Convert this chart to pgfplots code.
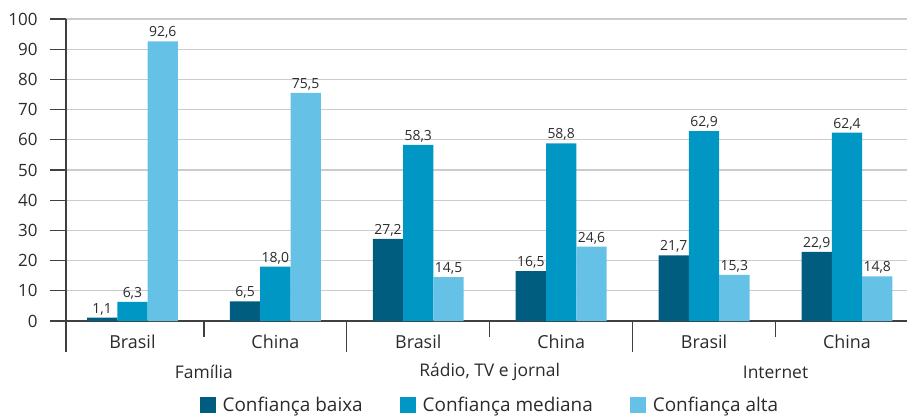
\documentclass[border=0pt]{standalone}
\usepackage{fontspec}
\setmainfont{Open Sans}
\usepackage{pgfplots}
\pgfplotsset{compat=1.18}
\definecolor{cbaixa}{HTML}{005D80}
\definecolor{cmed}{HTML}{0097C4}
\definecolor{calta}{HTML}{65C1E6}
\definecolor{txt}{HTML}{2B2B2B}
\definecolor{axl}{HTML}{404040}
\begin{document}
\begin{tikzpicture}
\useasboundingbox (-66bp,-96bp) rectangle (841bp,321bp);
\begin{axis}[
  at={(0,0)}, anchor=south west,
  scale only axis, width=841bp, height=302bp,
  xmin=-0.465, xmax=5.42, ymin=0, ymax=100,
  ybar=0pt, bar width=0.212,
  clip=false,
  axis x line*=bottom, axis y line*=left,
  axis line style={-, draw=axl, line width=1.3bp},
  /pgf/number format/assume math mode=true,
  ytick={0,10,...,100},
  tick align=outside, major tick length=16bp,
  y tick style={draw=axl, line width=1.3bp},
  x tick style={draw=none},
  ymajorgrids, grid style={draw=black!20, line width=1.3bp},
  yticklabel style={font=\fontsize{17}{20}\selectfont, color=txt, xshift=-9bp},
  xtick={0,...,5},
  xticklabels={Brasil,China,Brasil,China,Brasil,China},
  xticklabel style={font=\fontsize{18}{21}\selectfont, color=txt, yshift=6bp},
  nodes near coords={\pgfmathprintnumber[fixed,fixed zerofill,precision=1,use comma]{\pgfplotspointmeta}},
  every node near coord/.append style={font=\fontsize{14}{16}\selectfont, color=txt, inner sep=2.5bp},
  legend columns=3,
  legend style={at={(0.504,-0.279)}, anchor=center, draw=none, fill=none,
    font=\fontsize{19}{22}\selectfont, text=txt,
    /tikz/every even column/.append style={column sep=35bp}},
  legend image code/.code={\fill[#1] (0bp,-8bp) rectangle (16bp,8bp); \path (21bp,0bp);},
]
\addplot[fill=cbaixa, draw=none] coordinates {(0,1.1) (1,6.5) (2,27.2) (3,16.5) (4,21.7) (5,22.9)};
\addlegendentry{Confiança baixa}
\addplot[fill=cmed, draw=none] coordinates {(0,6.3) (1,18.0) (2,58.3) (3,58.8) (4,62.9) (5,62.4)};
\addlegendentry{Confiança mediana}
\addplot[fill=calta, draw=none] coordinates {(0,92.6) (1,75.5) (2,14.5) (3,24.6) (4,15.3) (5,14.8)};
\addlegendentry{Confiança alta}
% group separators
\draw[axl, line width=1.3bp] (axis cs:-0.465,0) -- ([yshift=-31bp]axis cs:-0.465,0);
\draw[axl, line width=1.3bp] (axis cs:1.5,0) -- ([yshift=-31bp]axis cs:1.5,0);
\draw[axl, line width=1.3bp] (axis cs:3.5,0) -- ([yshift=-31bp]axis cs:3.5,0);
\draw[axl, line width=1.3bp] (axis cs:0.5,0) -- ([yshift=-16bp]axis cs:0.5,0);
\draw[axl, line width=1.3bp] (axis cs:2.5,0) -- ([yshift=-16bp]axis cs:2.5,0);
\draw[axl, line width=1.3bp] (axis cs:4.5,0) -- ([yshift=-16bp]axis cs:4.5,0);
% category labels
\node[font=\fontsize{17.5}{20}\selectfont, text=txt] at ([yshift=-51bp]axis cs:0.5,0) {Família};
\node[font=\fontsize{17.5}{20}\selectfont, text=txt] at ([yshift=-51bp]axis cs:2.5,0) {Rádio, TV e jornal};
\node[font=\fontsize{17.5}{20}\selectfont, text=txt] at ([yshift=-51bp]axis cs:4.5,0) {Internet};
\end{axis}
\end{tikzpicture}
\end{document}
